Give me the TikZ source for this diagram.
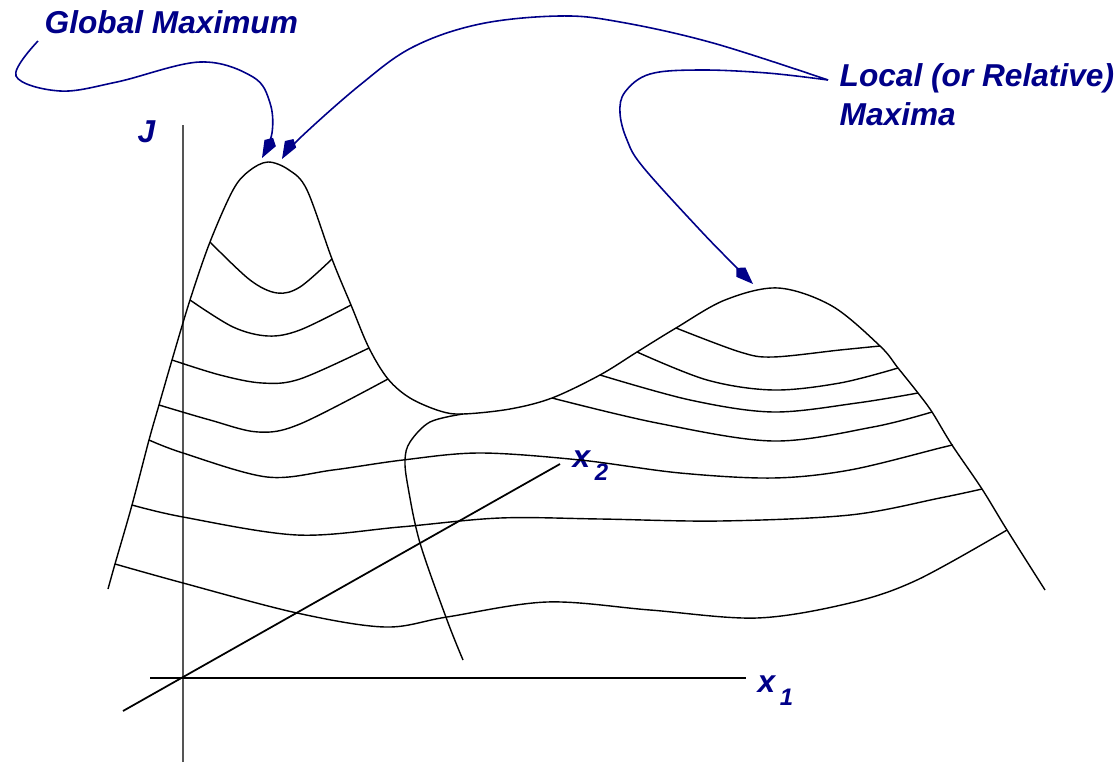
\documentclass[tikz,border=0pt]{standalone}
\usepackage{fontspec}
\setmainfont{Liberation Sans}
\usetikzlibrary{arrows.meta}
\definecolor{navy}{HTML}{000088}
\definecolor{axgray}{HTML}{555555}
\newcommand{\sbx}[1]{x\kern1.3pt\raisebox{-3.7pt}{\fontsize{6.8}{8}\selectfont #1}}
\tikzset{
  surf/.style={draw=black,line width=0.4pt,line join=round},
  jaxis/.style={draw=axgray,line width=0.65pt},
  xaxis/.style={draw=black,line width=0.5pt},
  lbl/.style={text=navy,font=\fontsize{9}{11.1}\selectfont\bfseries\itshape,inner sep=0pt},
  pnt/.style={draw=navy,line width=0.45pt,-{Kite[length=2.3mm,width=1.3mm,inset=0.6mm]}},
}
\begin{document}
\begin{tikzpicture}[x=0.01cm,y=-0.01cm]
\useasboundingbox (0,0) rectangle (1119,764);
% axes
\coordinate (O) at (183,678);
\coordinate (jlo) at (183,762); \coordinate (jhi) at (183,125);
\coordinate (x1lo) at (150,678); \coordinate (x1hi) at (746,678);
\coordinate (x2lo) at (123,711); \coordinate (x2hi) at (560,464);
\draw[jaxis] (jlo) -- (jhi);
\draw[xaxis] (x1lo) -- (x1hi);
\draw[xaxis] (x2lo) -- (x2hi);
\node[lbl,anchor=base west] (J) at (137,143) {J};
\node[lbl,anchor=base west] (x2) at (572,467) {\sbx{2}};
\node[lbl,anchor=base west] (x1) at (757,692) {\sbx{1}};
% surface outline
\draw[surf] plot[smooth,tension=0.55] coordinates {(108,589) (115,564) (132,505) (149,440) (159,405)
  (172,360) (190,300) (210,242) (233,190) (249,171) (268,162) (289,170) (307,190) (332,259)
  (351,305) (369,348) (388,379) (410,398) (440,411) (463,414) (510,409) (552,398) (600,375)
  (637,352) (676,328) (725,300) (778,288) (832,306) (880,346) (898,368) (918,393) (932,412)
  (952,445) (982,489) (1007,530) (1045,590)};
% contours on the big peak
\draw[surf] plot[smooth,tension=0.55] coordinates {(210,242) (250,280) (277,293) (300,287) (332,259)};
\draw[surf] plot[smooth,tension=0.55] coordinates {(190,300) (233,327) (268,336) (300,330) (351,305)};
\draw[surf] plot[smooth,tension=0.55] coordinates {(172,360) (220,375) (262,383) (300,379) (369,348)};
\draw[surf] plot[smooth,tension=0.55] coordinates {(159,405) (210,420) (258,432) (300,424) (388,379)};
% contours on the small peak
\draw[surf] plot[smooth,tension=0.55] coordinates {(676,328) (740,352) (773,357) (840,350) (880,346)};
\draw[surf] plot[smooth,tension=0.55] coordinates {(637,352) (707,380) (773,390) (840,383) (898,368)};
\draw[surf] plot[smooth,tension=0.55] coordinates {(600,375) (690,400) (773,412) (857,403) (918,393)};
\draw[surf] plot[smooth,tension=0.55] coordinates {(552,398) (657,423) (773,441) (873,427) (932,412)};
% long cross lines
\draw[surf] plot[smooth,tension=0.55] coordinates {(149,440) (183,453) (267,477) (333,470) (403,460)
  (480,453) (580,460) (680,473) (773,478) (850,470) (940,448) (952,445)};
\draw[surf] plot[smooth,tension=0.55] coordinates {(132,505) (183,517) (297,535) (400,527) (500,518)
  (600,519) (720,521) (850,515) (940,498) (982,489)};
\draw[surf] plot[smooth,tension=0.55] coordinates {(115,564) (183,583) (297,613) (385,627) (447,617)
  (547,602) (650,610) (757,618) (850,603) (917,580) (1007,530)};
% line through the saddle
\draw[surf] plot[smooth,tension=0.55] coordinates {(463,414) (430,422) (410,442) (405,460) (408,487)
  (420,543) (447,620) (463,660)};
% labels and pointers
\node[lbl,anchor=base west] (glob) at (44,34) {Global Maximum};
\node[lbl,anchor=base west,align=left] (loc) at (839,126) {Local (or Relative)\\Maxima};
\coordinate (gtail) at (38,41);
\coordinate (ltail) at (828,80);
\coordinate (gpk) at (262,158);
\coordinate (gpk2) at (282,159);
\coordinate (lpk) at (753,284);
\draw[pnt] plot[smooth,tension=0.6] coordinates {(gtail) (16,76) (60,91) (117,82) (200,62)
  (253,77) (270,103) (272,133) (gpk)};
\draw[pnt] plot[smooth,tension=0.6] coordinates {(ltail) (713,43) (620,22) (560,16) (480,24)
  (413,47) (360,85) (300,138) (gpk2)};
\draw[pnt] plot[smooth,tension=0.6] coordinates {(ltail) (767,73) (700,70) (650,74) (625,92)
  (620,113) (627,140) (643,167) (700,230) (738,269) (lpk)};
\end{tikzpicture}
\end{document}
